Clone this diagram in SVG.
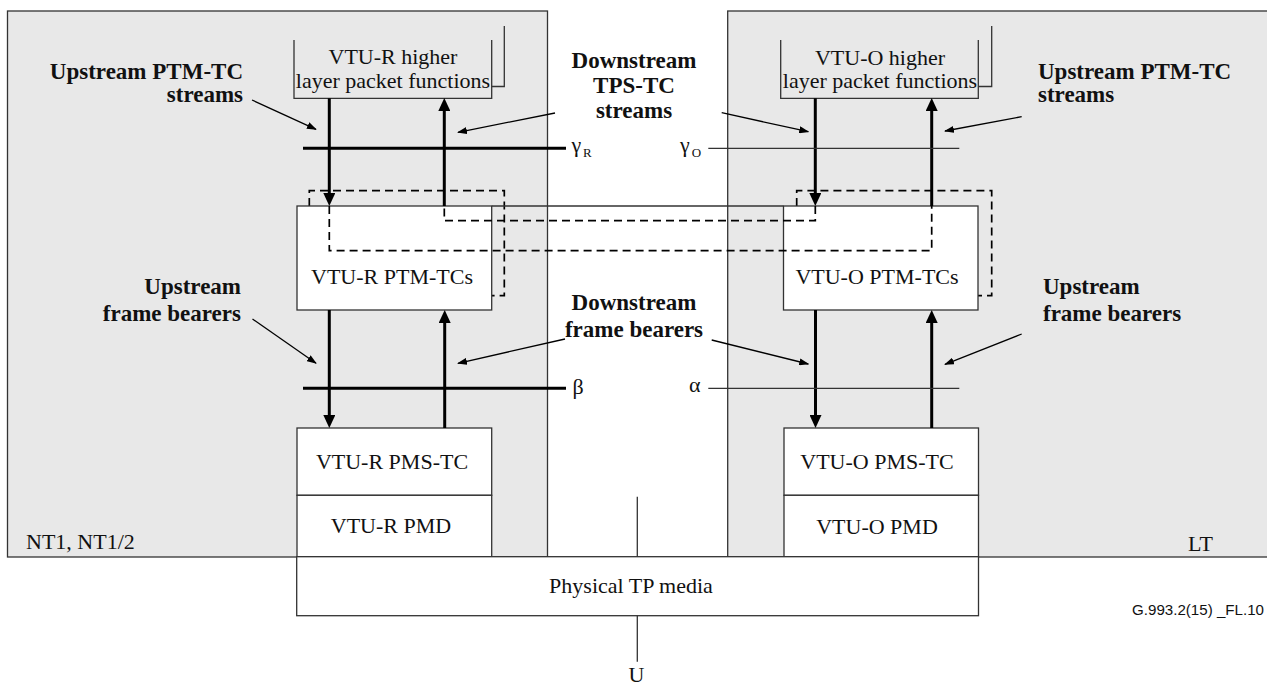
<svg xmlns="http://www.w3.org/2000/svg" width="1267" height="686" viewBox="0 0 1267 686">
<defs>
<style>
.bg{fill:#e8e8e8;stroke:#333;stroke-width:1.3}
.box{fill:#fff;stroke:#333;stroke-width:1.3}
.open{fill:none;stroke:#333;stroke-width:1.3}
.dash{fill:none;stroke:#000;stroke-width:1.7;stroke-dasharray:8 5}
.flow{fill:none;stroke:#000;stroke-width:3}
.ptr{fill:none;stroke:#000;stroke-width:1.3}
.ref{fill:none;stroke:#000;stroke-width:3}
.refthin{fill:none;stroke:#333;stroke-width:1.3}
.t{font-family:"Liberation Serif","Times New Roman",serif;font-size:22px;fill:#111}
.b{font-family:"Liberation Serif","Times New Roman",serif;font-size:23px;font-weight:bold;fill:#111}
.m{text-anchor:middle}
.e{text-anchor:end}
.sub{font-size:13px}
.code{font-family:"Liberation Sans",Arial,sans-serif;font-size:14px;fill:#111}
</style>
<marker id="ah" viewBox="0 0 13 12" refX="5" refY="6" markerWidth="13" markerHeight="12" markerUnits="userSpaceOnUse" orient="auto">
<path d="M0,0 L13,6 L0,12 z" fill="#000"/>
</marker>
<marker id="ph" viewBox="0 0 10 7" refX="9" refY="3.5" markerWidth="10" markerHeight="7" markerUnits="userSpaceOnUse" orient="auto">
<path d="M0,0 L10,3.5 L0,7 z" fill="#000"/>
</marker>
</defs>

<g id="nt1-area">
<rect class="bg" x="7.5" y="11" width="540" height="546"/>
<text class="t" x="26" y="549">NT1, NT1/2</text>
</g>
<g id="lt-area">
<rect class="bg" x="727.7" y="11" width="545" height="546"/>
<text class="t" x="1188" y="551">LT</text>
</g>

<g id="vtur-higher">
<path class="open" d="M294,40 V98.3 H491.7 V40"/>
<path class="open" d="M504.3,26 V86.5 H491.7"/>
<text class="t m" x="393" y="64">VTU-R higher</text>
<text class="t m" x="393" y="88">layer packet functions</text>
</g>
<g id="vtuo-higher">
<path class="open" d="M780.7,40 V98.3 H978.3 V40"/>
<path class="open" d="M991.7,26 V86.5 H978.3"/>
<text class="t m" x="880" y="65">VTU-O higher</text>
<text class="t m" x="880" y="88">layer packet functions</text>
</g>

<g id="dashed-outlines">
<path class="dash" d="M309.3,206 V190.7 H504.3 V295.7 H491.7"/>
<path class="dash" d="M796.7,206 V190.7 H991.7 V295.7 H978"/>
</g>

<g id="vtur-ptmtc">
<rect class="box" x="297" y="206" width="194.7" height="104"/>
<text class="t m" x="392" y="284">VTU-R PTM-TCs</text>
</g>
<g id="vtuo-ptmtc">
<rect class="box" x="783.5" y="206" width="194.5" height="104"/>
<text class="t m" x="877" y="284">VTU-O PTM-TCs</text>
</g>

<g id="vtur-pms">
<rect class="box" x="297" y="428" width="194.7" height="67.3"/>
<text class="t m" x="392" y="469">VTU-R PMS-TC</text>
</g>
<g id="vtur-pmd">
<rect class="box" x="297" y="495.3" width="194.7" height="61.4"/>
<text class="t m" x="391" y="533">VTU-R PMD</text>
</g>
<g id="vtuo-pms">
<rect class="box" x="784" y="428" width="194.5" height="67.3"/>
<text class="t m" x="877" y="469">VTU-O PMS-TC</text>
</g>
<g id="vtuo-pmd">
<rect class="box" x="784" y="495.3" width="194.5" height="61.4"/>
<text class="t m" x="877" y="534">VTU-O PMD</text>
</g>
<g id="physical-tp">
<rect class="box" x="296.7" y="556.7" width="681.8" height="59"/>
<text class="t m" x="631" y="593">Physical TP media</text>
</g>

<g id="connectors">
<line class="refthin" x1="491.7" y1="206" x2="783.5" y2="206"/>
<path class="dash" d="M329.3,206 V250.7 H931.7 V206"/>
<path class="dash" d="M815.3,206 V220.7 H444.3 V206"/>

<line class="flow" x1="329.3" y1="98.3" x2="329.3" y2="198" marker-end="url(#ah)"/>
<line class="flow" x1="444.3" y1="206" x2="444.3" y2="106" marker-end="url(#ah)"/>
<line class="flow" x1="815.3" y1="98.3" x2="815.3" y2="198" marker-end="url(#ah)"/>
<line class="flow" x1="931.7" y1="206" x2="931.7" y2="106" marker-end="url(#ah)"/>

<line class="flow" x1="329.3" y1="310" x2="329.3" y2="420" marker-end="url(#ah)"/>
<line class="flow" x1="444.7" y1="428" x2="444.7" y2="318" marker-end="url(#ah)"/>
<line class="flow" x1="815.5" y1="310" x2="815.5" y2="420" marker-end="url(#ah)"/>
<line class="flow" x1="931.7" y1="428" x2="931.7" y2="318" marker-end="url(#ah)"/>

<line class="ref" x1="303" y1="148.3" x2="566" y2="148.3"/>
<line class="refthin" x1="708.3" y1="148.3" x2="959.3" y2="148.3"/>
<line class="ref" x1="303" y1="388.3" x2="566" y2="388.3"/>
<line class="refthin" x1="708.3" y1="388.3" x2="959.3" y2="388.3"/>

<line class="refthin" x1="637.3" y1="496.7" x2="637.3" y2="556.7"/>
<line class="refthin" x1="637.3" y1="615.7" x2="637.3" y2="661.7"/>

<line class="ptr" x1="252" y1="100" x2="316" y2="129.3" marker-end="url(#ph)"/>
<line class="ptr" x1="555" y1="113" x2="458" y2="132.3" marker-end="url(#ph)"/>
<line class="ptr" x1="721.7" y1="112.7" x2="808.3" y2="131.7" marker-end="url(#ph)"/>
<line class="ptr" x1="1021.7" y1="116.7" x2="945" y2="131" marker-end="url(#ph)"/>
<line class="ptr" x1="252.5" y1="319" x2="316" y2="363.3" marker-end="url(#ph)"/>
<line class="ptr" x1="565" y1="339" x2="458" y2="363.3" marker-end="url(#ph)"/>
<line class="ptr" x1="711.7" y1="340" x2="808.3" y2="364" marker-end="url(#ph)"/>
<line class="ptr" x1="1021.7" y1="334" x2="945" y2="364.3" marker-end="url(#ph)"/>
</g>

<g id="labels">
<text class="t" x="571.5" y="152">γ<tspan class="sub" x="583" y="156.7">R</tspan></text>
<text class="t" x="680" y="152">γ<tspan class="sub" x="691.7" y="156.7">O</tspan></text>
<text class="t" x="572.5" y="394">β</text>
<text class="t" x="689" y="392">α</text>
<text class="t m" x="636.5" y="682">U</text>

<text class="b e" x="243" y="79">Upstream PTM-TC</text>
<text class="b e" x="243" y="102">streams</text>
<text class="b" x="1038" y="79">Upstream PTM-TC</text>
<text class="b" x="1038" y="102">streams</text>
<text class="b m" x="634" y="68">Downstream</text>
<text class="b m" x="634" y="93">TPS-TC</text>
<text class="b m" x="634" y="118">streams</text>

<text class="b e" x="241" y="294">Upstream</text>
<text class="b e" x="241" y="320.7">frame bearers</text>
<text class="b" x="1043" y="294">Upstream</text>
<text class="b" x="1043" y="320.7">frame bearers</text>
<text class="b m" x="634" y="310">Downstream</text>
<text class="b m" x="634" y="336.7">frame bearers</text>

<text class="code" x="1132" y="615" textLength="132" lengthAdjust="spacingAndGlyphs">G.993.2(15) _FL.10</text>
</g>
</svg>
